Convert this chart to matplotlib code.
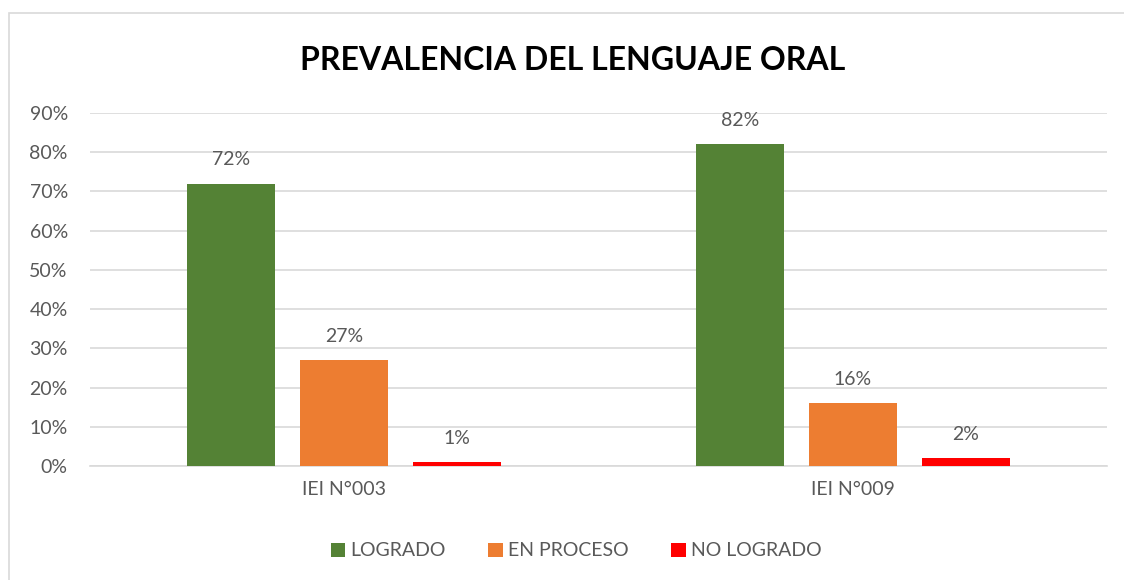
import matplotlib.pyplot as plt
import numpy as np
from matplotlib.patches import Rectangle

categories = ["IEI N°003", "IEI N°009"]
series_names = ["LOGRADO", "EN PROCESO", "NO LOGRADO"]
logrado = [72, 82]
en_proceso = [27, 16]
no_logrado = [1, 2]
y_ticks = [0, 10, 20, 30, 40, 50, 60, 70, 80, 90]

colors = ["#548235", "#ED7D31", "#FF0000"]
text_color = "#595959"

plt.rcParams["font.family"] = ["Lato", "DejaVu Sans"]

fig = plt.figure(figsize=(11.24, 5.8), dpi=100)
ax = fig.add_axes([90 / 1124, (580 - 466) / 580, 1017 / 1124, (466 - 113) / 580])

# chart border like the spreadsheet frame
fig.patches.append(Rectangle((9 / 1124, -0.1), 1.2, (580 - 13) / 580 + 0.1,
                             transform=fig.transFigure, fill=False,
                             edgecolor="#d9d9d9", linewidth=1.2))

x = np.arange(len(categories))
width = 0.173
offsets = [-0.222, 0.0, 0.222]
for vals, name, color, off in zip([logrado, en_proceso, no_logrado], series_names, colors, offsets):
    bars = ax.bar(x + off, vals, width=width, color=color, label=name, zorder=3)
    for b, v in zip(bars, vals):
        ax.annotate(f"{v}%", (b.get_x() + b.get_width() / 2, v),
                    xytext=(0, 11), textcoords="offset points",
                    ha="center", va="bottom", fontsize=14, color=text_color)

ax.set_xlim(-0.5, 1.5)
ax.set_ylim(0, 90)
ax.set_yticks(y_ticks)
ax.set_yticklabels([f"{t}%" for t in y_ticks], fontsize=14, color=text_color)
ax.set_xticks(x)
ax.set_xticklabels(categories, fontsize=14, color=text_color)
ax.tick_params(axis="y", length=0, pad=16)
ax.tick_params(axis="x", length=0, pad=11)
ax.grid(axis="y", color="#d9d9d9", linewidth=1.2, zorder=0)
for s in ["top", "right", "left"]:
    ax.spines[s].set_visible(False)
ax.spines["bottom"].set_color("#d9d9d9")
ax.spines["bottom"].set_linewidth(1.2)

fig.text(573 / 1124, 1 - 60 / 580, "PREVALENCIA DEL LENGUAJE ORAL",
         ha="center", va="center", fontsize=23, fontweight="bold", color="black")

fig.legend(loc="center", bbox_to_anchor=(576 / 1124, 1 - 551 / 580), ncol=3,
           frameon=False, fontsize=14, handlelength=0.75, handleheight=0.75,
           handletextpad=0.25, columnspacing=2.2, labelcolor=text_color)

fig.savefig("out.png", dpi=100, facecolor="white")
